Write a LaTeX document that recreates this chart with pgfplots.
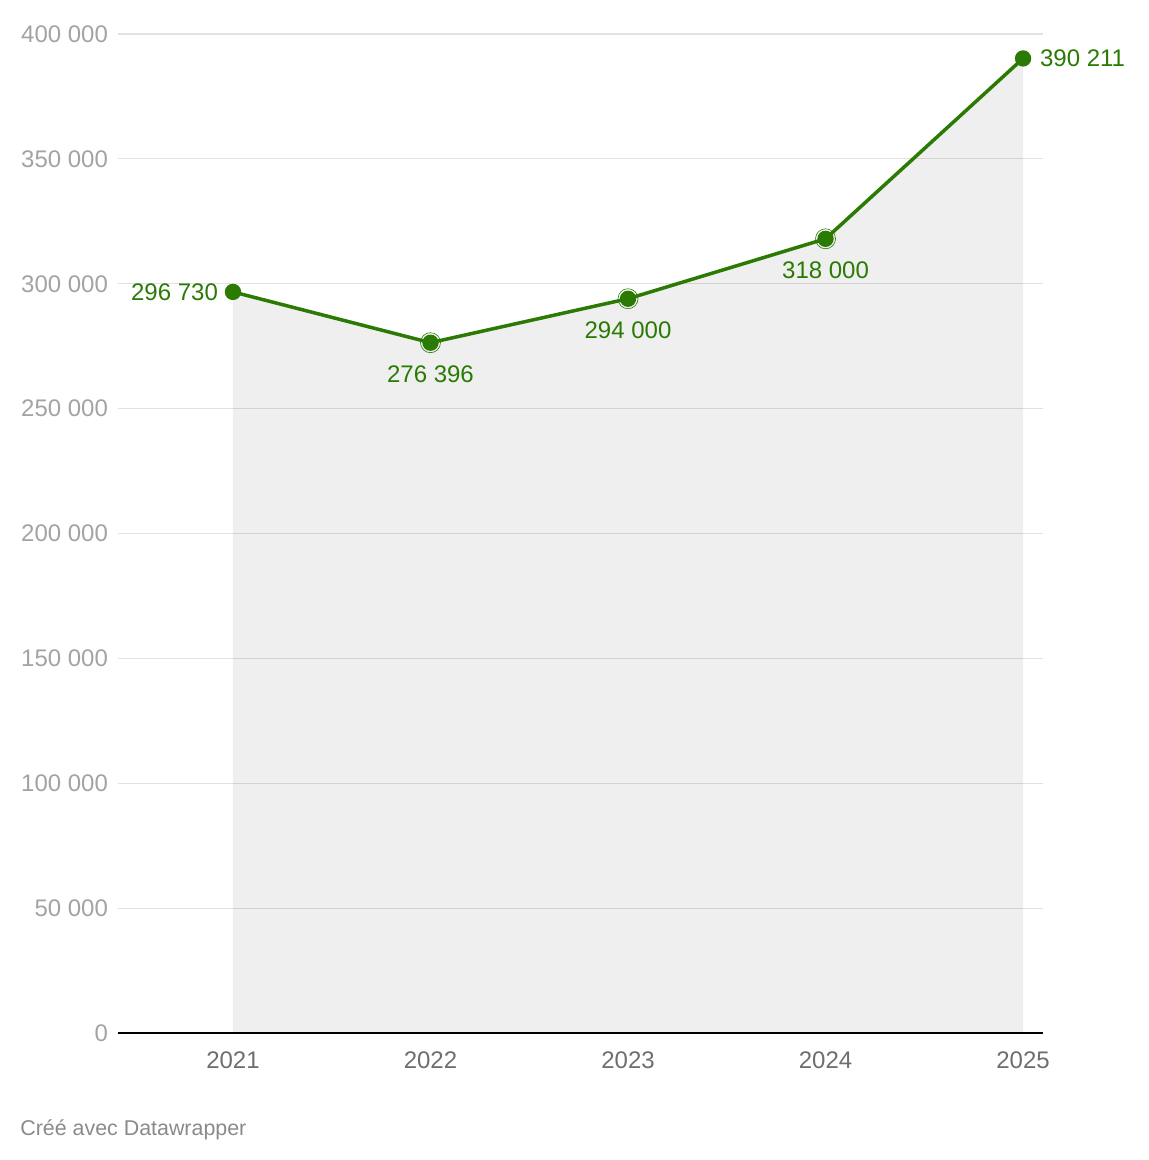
\documentclass[border=0pt]{standalone}
\usepackage{pgfplots}
\pgfplotsset{compat=1.18}
\usepackage{fontspec}
\setmainfont{Liberation Sans}
\definecolor{grn}{HTML}{2A7A04}
\definecolor{ticky}{HTML}{A3A3A3}
\definecolor{tickx}{HTML}{6E6E6E}
\definecolor{foot}{HTML}{8A8A8A}
\definecolor{gridc}{HTML}{E2E2E2}
\begin{document}
\begin{tikzpicture}
\useasboundingbox (0pt,0pt) rectangle (574pt,-580pt);
\begin{axis}[
  at={(59pt,-516.5pt)}, anchor=origin,
  scale only axis, width=462.5pt, height=499.5pt,
  xmin=2020.418, xmax=2025.101, ymin=0, ymax=400000,
  axis x line*=bottom, axis y line*=left,
  x axis line style={black, line width=1pt, -},
  y axis line style={draw=none},
  xtick={2021,2022,2023,2024,2025}, xtick style={draw=none},
  xticklabels={2021,2022,2023,2024,2025},
  ytick={0,50000,100000,150000,200000,250000,300000,350000,400000}, ytick style={draw=none},
  yticklabels={0,50 000,100 000,150 000,200 000,250 000,300 000,350 000,400 000},
  ymajorgrids, xmajorgrids=false, grid style={draw=gridc, line width=0.6pt},
  xticklabel style={font=\fontsize{12}{14}\selectfont, text=tickx, yshift=-6pt},
  yticklabel style={font=\fontsize{12}{14}\selectfont, text=ticky, anchor=east, xshift=-1.5pt},
  scaled y ticks=false,
  clip=false,
]
\addplot[fill=black, fill opacity=0.063, draw=none] coordinates {(2021,296730)(2022,276396)(2023,294000)(2024,318000)(2025,390211)} \closedcycle;
\addplot[grn, line width=1.75pt, mark=*, mark size=3.2pt, mark options={fill=grn, draw=grn}] coordinates {(2021,296730)(2022,276396)(2023,294000)(2024,318000)(2025,390211)};
\addplot[only marks, mark=o, mark size=5pt, mark options={draw=grn, line width=0.3pt}] coordinates {(2022,276396)(2023,294000)(2024,318000)};
% labels
\addplot[draw=none, mark=none, point meta=explicit symbolic, nodes near coords,
  nodes near coords style={anchor=east, xshift=-4pt, text=grn, font=\fontsize{12}{14}\selectfont}]
  coordinates {(2021,296730) [296 730]};
\addplot[draw=none, mark=none, point meta=explicit symbolic, nodes near coords,
  nodes near coords style={anchor=north, yshift=-8pt, text=grn, font=\fontsize{12}{14}\selectfont}]
  coordinates {(2022,276396) [276 396] (2023,294000) [294 000] (2024,318000) [318 000]};
\addplot[draw=none, mark=none, point meta=explicit symbolic, nodes near coords,
  nodes near coords style={anchor=west, xshift=5pt, text=grn, font=\fontsize{12}{14}\selectfont}]
  coordinates {(2025,390211) [390 211]};
\end{axis}
\node[anchor=base west, text=foot, font=\fontsize{10.7}{12}\selectfont, inner sep=0pt] at (10pt,-567.5pt) {Créé avec Datawrapper};
\end{tikzpicture}
\end{document}
